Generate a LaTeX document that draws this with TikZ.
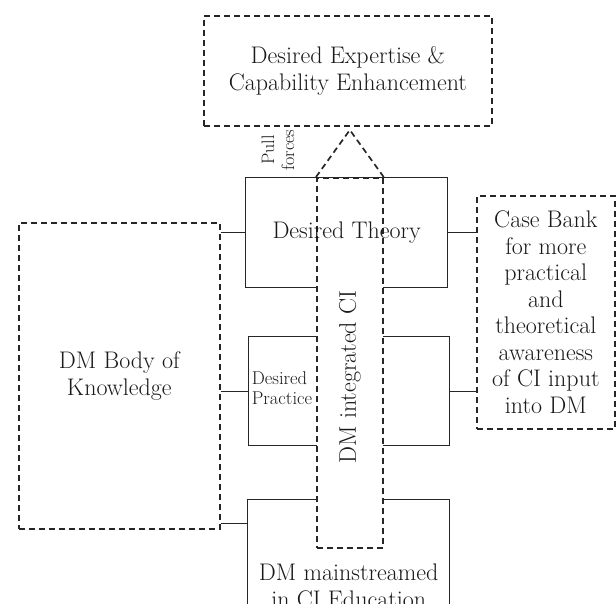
\documentclass[tikz,border=0pt]{standalone}
\usetikzlibrary{calc}
\tikzset{
  dashbox/.style={draw=black!85, line width=1.7pt, dash pattern=on 6pt off 4pt, inner sep=0pt},
  solidbox/.style={draw=black!85, line width=1.3pt, inner sep=0pt},
  link/.style={draw=black!85, line width=1.3pt},
  lbl/.style={font=\fontsize{24}{26.5}\selectfont, align=center, text=black!90},
  smalllbl/.style={font=\fontsize{18.5}{20}\selectfont, align=left, text=black!90},
}
\begin{document}
\begin{tikzpicture}[x=1pt, y=1pt]
			%%%%% START %%%%%
			\useasboundingbox (0,0) rectangle (616,-604);
			\clip (0,0) rectangle (616,-604);
			
			\node[dashbox, lbl, anchor=north west, minimum width=288pt, minimum height=110pt] (goal) at (203,-15) {Desired Expertise \&\\Capability Enhancement};
			\node[dashbox, lbl, anchor=north west, minimum width=201pt, minimum height=306pt] (kb) at (18,-222) {DM Body of\\Knowledge};
			\node[dashbox, lbl, anchor=north west, minimum width=138pt, minimum height=233pt] (case) at (476,-195) {Case Bank\\for more\\practical\\and\\theoretical\\awareness\\of CI input\\into DM};
			
			\node[solidbox, anchor=north west, minimum width=202pt, minimum height=110pt] (theory) at (245,-177) {};
			\node[solidbox, anchor=north west, minimum width=201pt, minimum height=109pt] (practice) at (248,-336) {};
			\node[solidbox, lbl, anchor=north west, minimum width=202pt, minimum height=172pt] (mainstr) at (247,-499) {DM mainstreamed\\in CI Education};
			
			\draw[link] (kb.east |- theory.west) -- (theory.west);
			\draw[link] (kb.east |- practice.west) -- (practice.west);
			\draw[link] ([yshift=6pt]kb.south east) -- ([yshift=6pt]kb.south east -| mainstr.west);
			\draw[link] (theory.east) -- (theory.east -| case.west);
			\draw[link] (practice.east) -- (practice.east -| case.west);
			
			\node[dashbox, fill=white, anchor=north west, minimum width=66pt, minimum height=370pt] (ci) at (316,-177) {};
			\draw[dashbox] (ci.north west) -- ($(ci.north)+(0,47)$) -- (ci.north east);
			
			\node[lbl] (theorytext) at (theory) {Desired Theory};
			\node[smalllbl] (practicetext) at (282,-388) {Desired\\Practice};
			\node[lbl, rotate=90] (citext) at (350,-377) {DM integrated CI};
			\node[font=\fontsize{18}{20}\selectfont, align=center, text=black!90, rotate=90] (pull) at (278,-150) {Pull\\forces};
			
			%%%%% END %%%%%
\end{tikzpicture}
\end{document}
